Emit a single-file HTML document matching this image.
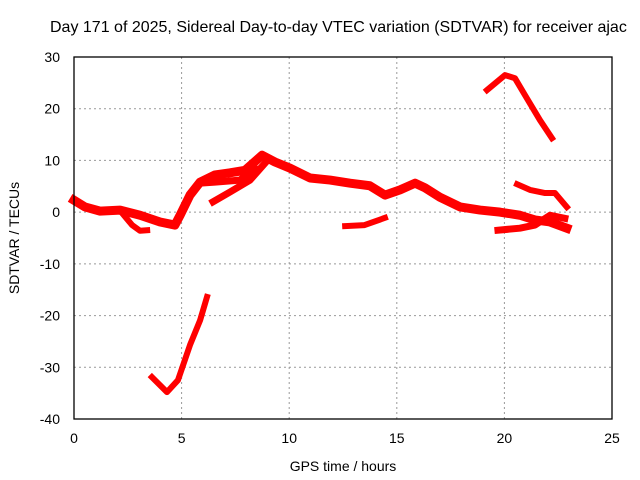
<!DOCTYPE html>
<html><head><meta charset="utf-8"><style>
body{margin:0;background:#fff;}
svg{display:block;font-family:"Liberation Sans",sans-serif;}
</style></head><body>
<svg id="chart" width="640" height="480">
<text x="50" y="32" font-size="16" fill="#000">Day 171 of 2025, Sidereal Day-to-day VTEC variation (SDTVAR) for receiver ajac</text>
<g id="grid"></g>
<g id="series"></g>
<rect x="74" y="57" width="538" height="362" fill="none" stroke="#000" stroke-width="1.3"/>
<g id="ticks"></g>
<text x="343" y="471" font-size="14" text-anchor="middle">GPS time / hours</text>
<text transform="translate(19,238) rotate(-90)" font-size="14" text-anchor="middle">SDTVAR / TECUs</text>
</svg>
<script>
const xTicks=[0,5,10,15,20,25];
const yTicks=[30,20,10,0,-10,-20,-30,-40];
const mainX=[0,0.51,1.21,2.14,3.07,4.0,4.69,4.93,5.39,5.86,6.55,7.25,7.95,8.74,9.34,10.04,10.97,11.9,12.83,13.75,14.45,15.15,15.85,16.31,17.0,17.94,18.87,19.8,20.72,21.42,22.12,22.9];
const mainY=[2.3,1.0,0.2,0.4,-0.6,-1.9,-2.5,-0.6,3.3,5.8,7.2,7.6,8.1,11.0,9.7,8.5,6.6,6.2,5.6,5.1,3.3,4.3,5.6,4.7,2.9,1.0,0.4,0.0,-0.6,-1.5,-1.9,-3.1];
const dipX=[2.14,2.7,3.07,3.4];
const dipY=[0.3,-2.5,-3.6,-3.5];
const lowBranchX=[6.46,7.25,8.18,8.88];
const lowBranchY=[2.0,3.9,6.2,9.5];
const midBranchX=[5.86,6.55,7.71,8.41];
const midBranchY=[5.6,5.8,6.2,8.5];
const segAX=[12.6,13.5,14.45];
const segAY=[-2.7,-2.5,-1.1];
const segTopX=[19.19,20.03,20.49,20.96,21.65,22.21];
const segTopY=[23.6,26.5,25.9,22.6,17.8,14.3];
const segRX=[20.59,21.19,21.89,22.35,22.9];
const segRY=[5.4,4.3,3.7,3.7,1.0];
const segLX=[19.7,20.72,21.42,22.12,22.81];
const segLY=[-3.5,-3.1,-2.5,-0.6,-1.2];
const deepX=[3.62,4.32,4.83,5.39,5.86,6.18];
const deepY=[-31.9,-34.8,-32.5,-25.7,-20.9,-16.4];
const NS="http://www.w3.org/2000/svg";
function sx(v){return 74+v*538/25;}
function sy(v){return 57+(30-v)*362/70;}
const grid=document.getElementById('grid'),ticks=document.getElementById('ticks'),ser=document.getElementById('series');
xTicks.forEach(t=>{
 if(t>0&&t<25){const l=document.createElementNS(NS,'line');
 l.setAttribute('x1',sx(t));l.setAttribute('x2',sx(t));l.setAttribute('y1',57);l.setAttribute('y2',419);
 l.setAttribute('stroke','#999');l.setAttribute('stroke-dasharray','2,3');
 
 
 grid.appendChild(l);}
 const tx=document.createElementNS(NS,'text');
 tx.setAttribute('x',sx(t));tx.setAttribute('y',443);tx.setAttribute('font-size','14');tx.setAttribute('text-anchor','middle');
 tx.textContent=t;
 
 
 ticks.appendChild(tx);
});
yTicks.forEach(t=>{
 if(t<30&&t>-40){const l=document.createElementNS(NS,'line');
 l.setAttribute('x1',74);l.setAttribute('x2',612);l.setAttribute('y1',sy(t));l.setAttribute('y2',sy(t));
 l.setAttribute('stroke','#999');l.setAttribute('stroke-dasharray','2,3');
 
 
 grid.appendChild(l);}
 const tx=document.createElementNS(NS,'text');
 tx.setAttribute('x',60);tx.setAttribute('y',sy(t)+5);tx.setAttribute('font-size','14');tx.setAttribute('text-anchor','end');
 tx.textContent=t;
 
 
 ticks.appendChild(tx);
});
function draw(xs,ys,name,w){
 const p=document.createElementNS(NS,'polyline');
 p.setAttribute('points',xs.map((x,i)=>sx(x)+','+sy(ys[i])).join(' '));
 p.setAttribute('fill','none');p.setAttribute('stroke','#f00');p.setAttribute('stroke-width',w);
 p.setAttribute('stroke-linejoin','round');p.setAttribute('stroke-linecap','square');
 
 
 ser.appendChild(p);
}
draw(mainX,mainY,'sdtvar-main-series',9);
draw(dipX,dipY,'sdtvar-dip-branch',6);
draw(lowBranchX,lowBranchY,'sdtvar-low-branch',7);
draw(midBranchX,midBranchY,'sdtvar-mid-branch',7);
draw(segAX,segAY,'sdtvar-segment-a',6);
draw(segTopX,segTopY,'sdtvar-top-segment',6);
draw(segRX,segRY,'sdtvar-right-segment',6);
draw(segLX,segLY,'sdtvar-lower-right-segment',7);
draw(deepX,deepY,'sdtvar-deep-dip',6);
</script>
</body></html>
